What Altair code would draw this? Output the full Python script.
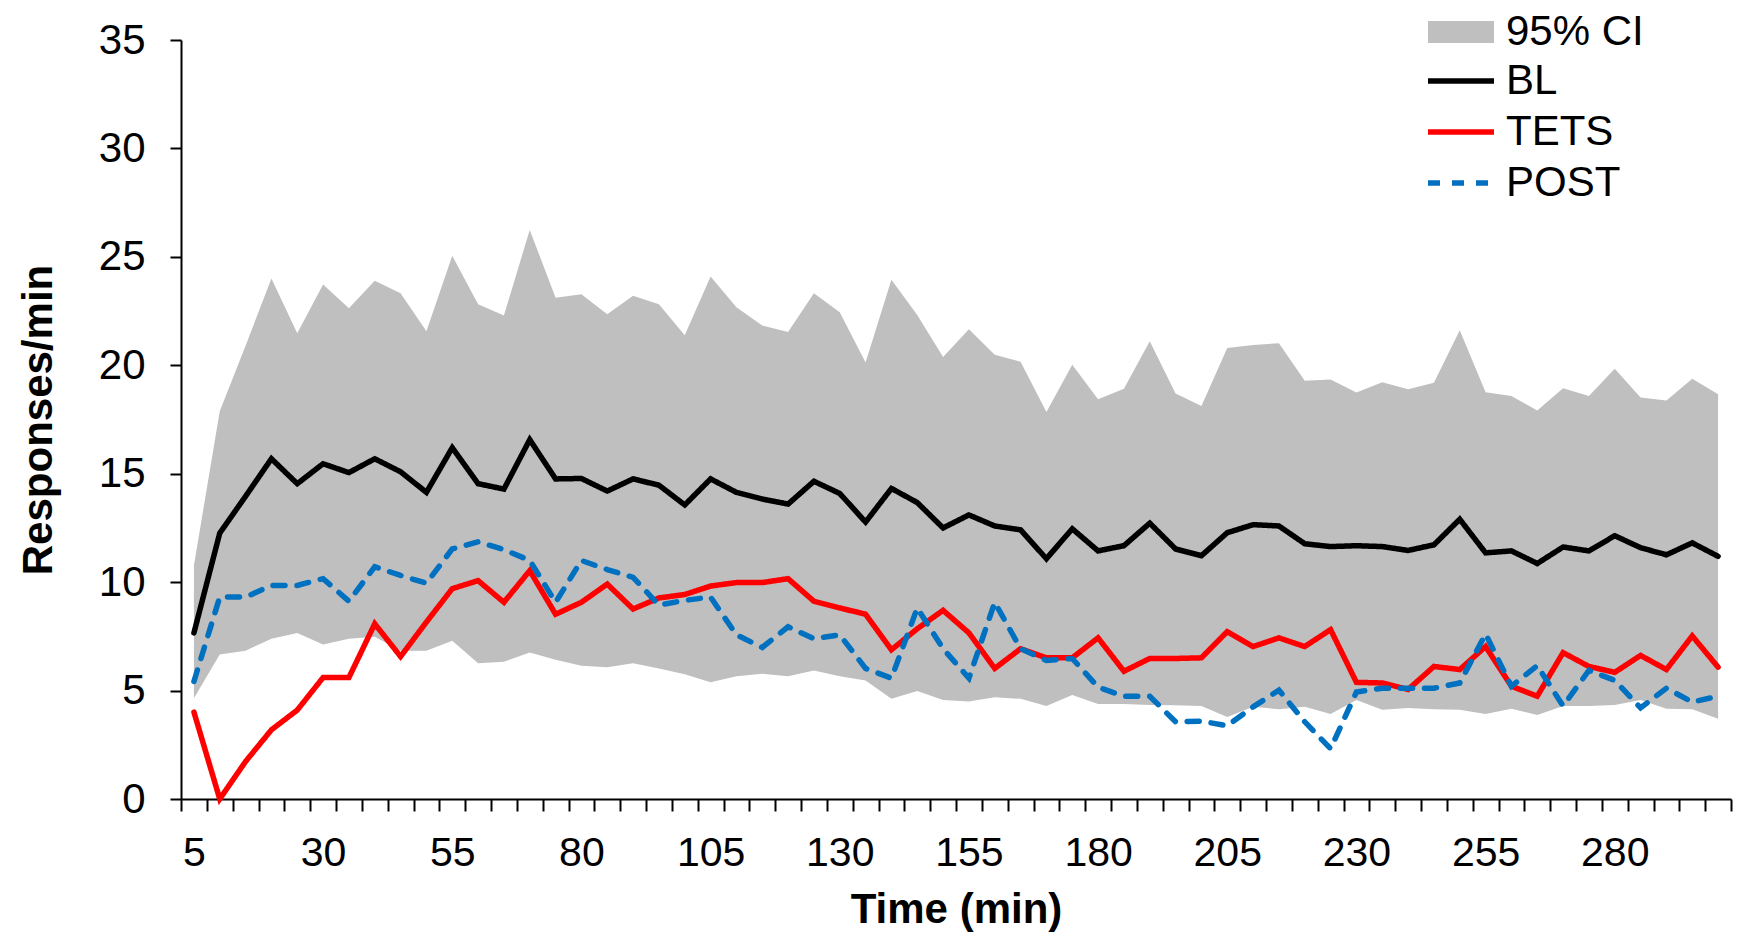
import altair as alt
import pandas as pd

# ---------------- data ----------------
times = list(range(5, 301, 5))

bl = [7.66, 12.26, 13.96, 15.69, 14.54, 15.46, 15.05, 15.69, 15.09, 14.14, 16.2, 14.54, 14.29, 16.57, 14.76,
      14.78, 14.2, 14.76, 14.47, 13.56, 14.76, 14.14, 13.83, 13.6, 14.65, 14.09, 12.77, 14.32, 13.67, 12.5,
      13.1, 12.59, 12.41, 11.08, 12.46, 11.44, 11.68, 12.72, 11.53, 11.22, 12.28, 12.65, 12.59, 11.77, 11.64, 11.68,
      11.64, 11.46, 11.72, 12.9, 11.35, 11.44, 10.86, 11.62, 11.44, 12.14, 11.59, 11.26, 11.81, 11.19]

tets = [4.01, 0.0, 1.73, 3.19, 4.1, 5.6, 5.6, 8.08, 6.57, 8.16, 9.7, 10.07, 9.07, 10.53, 8.52,
        9.07, 9.91, 8.76, 9.27, 9.43, 9.82, 9.98, 9.98, 10.16, 9.12, 8.81, 8.52, 6.88, 7.85, 8.7,
        7.66, 6.02, 6.93, 6.51, 6.51, 7.43, 5.89, 6.48, 6.48, 6.51, 7.72, 7.03, 7.43, 7.03, 7.81, 5.38,
        5.35, 5.05, 6.11, 5.97, 7.03, 5.2, 4.74, 6.75, 6.11, 5.84, 6.62, 5.97, 7.52, 6.08]

post = [5.42, 9.31, 9.31, 9.85, 9.85, 10.16, 9.12, 10.71, 10.31, 9.95, 11.53, 11.86, 11.5, 11.0, 9.07,
        11.0, 10.58, 10.22, 8.94, 9.16, 9.31, 7.57, 6.99, 7.94, 7.39, 7.57, 6.02, 5.57, 8.81, 6.93,
        5.57, 9.07, 6.93, 6.39, 6.48, 5.16, 4.74, 4.74, 3.56, 3.59, 3.38, 4.25, 5.02, 3.56, 2.32, 4.93,
        5.11, 5.11, 5.11, 5.35, 7.61, 5.2, 6.15, 4.29, 5.93, 5.47, 4.2, 5.11, 4.47, 4.74]

ci_upper = [10.77, 17.88, 20.9, 24.0, 21.48, 23.72, 22.63, 23.9, 23.32, 21.57, 25.05, 22.81, 22.3, 26.24, 23.12,
            23.27, 22.35, 23.21, 22.81, 21.39, 24.09, 22.68, 21.84, 21.53, 23.32, 22.45, 20.13, 23.94, 22.32, 20.38,
            21.66, 20.49, 20.16, 17.85, 20.02, 18.43, 18.92, 21.11, 18.7, 18.12, 20.8, 20.93, 21.02, 19.29, 19.34, 18.74,
            19.22, 18.89, 19.2, 21.62, 18.76, 18.58, 17.92, 18.94, 18.58, 19.84, 18.52, 18.38, 19.38, 18.67]

ci_lower = [4.65, 6.66, 6.84, 7.39, 7.66, 7.12, 7.39, 7.48, 6.84, 6.84, 7.3, 6.26, 6.33, 6.75, 6.42,
            6.15, 6.08, 6.26, 6.02, 5.75, 5.38, 5.66, 5.78, 5.66, 5.93, 5.66, 5.47, 4.62, 4.98, 4.56,
            4.5, 4.69, 4.62, 4.29, 4.8, 4.38, 4.38, 4.34, 4.32, 4.29, 3.78, 4.25, 4.14, 4.25, 3.92, 4.56,
            4.11, 4.2, 4.14, 4.11, 3.92, 4.16, 3.87, 4.29, 4.29, 4.34, 4.56, 4.16, 4.14, 3.7]

series_names = ["BL", "TETS", "POST"]
series_colors = ["#000000", "#ff0000", "#0070c0"]
band_label = "95% CI"
y_ticks = [0, 5, 10, 15, 20, 25, 30, 35]

ci_df = pd.DataFrame({"time": times, "lo": ci_lower, "hi": ci_upper, "band": [band_label] * len(times)})
line_df = pd.DataFrame({
    "time": times * 3,
    "value": bl + tets + post,
    "series": ["BL"] * len(times) + ["TETS"] * len(times) + ["POST"] * len(times),
})

# ---------------- layout ----------------
W, H = 1550, 759
FONT = "Liberation Sans"
bounds = [2.5 + 5 * k for k in range(61)]

x_scale = alt.Scale(domain=[2.5, 302.5], nice=False, zero=False)
y_scale = alt.Scale(domain=[0, 35], nice=False, zero=True)

x_axis = alt.Axis(
    orient="bottom", values=bounds,
    labelExpr="datum.value < 300 && (datum.value - 2.5) % 25 == 0 ? '' + (datum.value + 2.5) : ''",
    labelOffset=W / 120, labelFlush=False, labelOverlap=False,
    tickSize=12, tickWidth=2, tickColor="black",
    domainColor="black", domainWidth=2, grid=False,
    labelFont=FONT, labelFontSize=41, labelColor="black",
    labelPadding=54, labelBaseline="alphabetic",
    title="Time (min)", titleFont=FONT, titleFontSize=42, titleFontWeight="bold",
    titleColor="black", titleX=W / 2, titleY=123, titleBaseline="alphabetic", titleAlign="center",
)

y_axis = alt.Axis(
    values=y_ticks, tickSize=11, tickWidth=2, tickColor="black",
    domainColor="black", domainWidth=2, grid=False,
    labelFont=FONT, labelFontSize=42, labelColor="black", labelPadding=25,
    title="Responses/min", titleFont=FONT, titleFontSize=42, titleFontWeight="bold",
    titleColor="black", titleX=-130, titleY=H / 2, titleAngle=270,
    titleBaseline="alphabetic", titleAlign="center",
)

band_legend = alt.Legend(
    orient="none", legendX=1259, legendY=-29, title=None, padding=0,
    symbolType="M-3,-1H3V1H-3Z", symbolSize=484, symbolStrokeWidth=0, symbolOpacity=1,
    labelFont=FONT, labelFontSize=42, labelColor="black", labelOffset=24,
)

line_legend = alt.Legend(
    orient="none", legendX=1259, legendY=20, title=None, padding=0,
    symbolType="M-3,0H3", symbolSize=484, symbolStrokeWidth=5.5,
    labelFont=FONT, labelFontSize=42, labelColor="black", labelOffset=24, rowPadding=9,
)

area = alt.Chart(ci_df).mark_area(opacity=1).encode(
    x=alt.X("time:Q", scale=x_scale, axis=x_axis),
    y=alt.Y("lo:Q", scale=y_scale, axis=y_axis),
    y2="hi:Q",
    fill=alt.Fill("band:N", scale=alt.Scale(domain=[band_label], range=["#bfbfbf"]), legend=band_legend),
)

stroke_enc = alt.Stroke("series:N", scale=alt.Scale(domain=series_names, range=series_colors), legend=line_legend)
dash_enc = alt.StrokeDash("series:N", scale=alt.Scale(domain=series_names, range=[[1, 0], [1, 0], [12, 12]]),
                          legend=line_legend)


def line_layer(name):
    return alt.Chart(line_df).transform_filter(alt.datum.series == name).mark_line(
        strokeWidth=5.5, strokeCap="round", strokeJoin="miter"
    ).encode(
        x=alt.X("time:Q", scale=x_scale, axis=x_axis),
        y=alt.Y("value:Q", scale=y_scale, axis=y_axis),
        stroke=stroke_enc,
        strokeDash=dash_enc,
    )


chart = alt.layer(area, *[line_layer(s) for s in series_names]).properties(
    width=W, height=H,
    autosize=alt.AutoSizeParams(type="none"),
    padding={"left": 181, "top": 40, "right": 8, "bottom": 138},
    background="white",
).configure_view(strokeWidth=0)

chart.save("out.html", embed_options={"renderer": "svg", "actions": False})
